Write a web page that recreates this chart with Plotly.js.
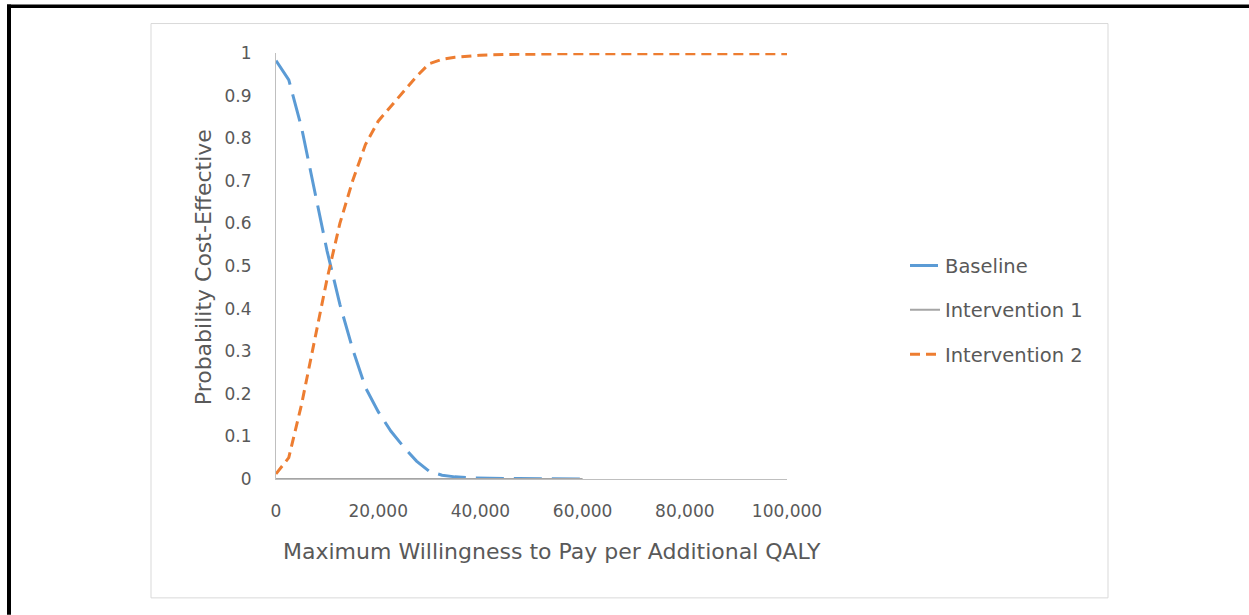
<!DOCTYPE html>
<html>
<head>
<meta charset="utf-8">
<script src="https://cdn.plot.ly/plotly-3.0.1.min.js"></script>
<style>
html,body{margin:0;padding:0;background:#fff;}
#chart{width:1249px;height:615px;}
</style>
</head>
<body>
<div id="chart"></div>
<script>
// Willingness-to-pay thresholds
const wtpShort = [0,2500,5000,7500,10000,12500,15000,17500,20000,22500,25000,27500,30000,32500,35000,37500,40000,42500,45000,47500,50000,52500,55000,57500,60000];
const wtpFull = [0,2500,5000,7500,10000,12500,15000,17500,20000,22500,25000,27500,30000,32500,35000,37500,40000,42500,45000,47500,50000,52500,55000,57500,60000,62500,65000,67500,70000,72500,75000,77500,80000,82500,85000,87500,90000,92500,95000,97500,100000];

// Probability cost-effective per strategy
const baseline = [0.982,0.937,0.825,0.68,0.535,0.41,0.305,0.215,0.158,0.112,0.075,0.042,0.018,0.009,0.005,0.003,0.002,0.002,0.001,0.001,0.001,0.001,0.001,0.0005,0];
const intervention1 = [0,0,0,0,0,0,0,0,0,0,0,0,0,0,0,0,0,0,0,0,0,0,0,0,0];
const intervention2 = [0.012,0.05,0.175,0.32,0.47,0.60,0.70,0.785,0.84,0.875,0.91,0.945,0.975,0.985,0.99,0.993,0.995,0.996,0.997,0.997,0.997,0.998,0.998,0.998,0.998,0.998,0.998,0.998,0.998,0.998,0.998,0.998,0.998,0.998,0.998,0.998,0.998,0.998,0.998,0.998,0.998];

const seriesNames = ["Baseline","Intervention 1","Intervention 2"];
const xTickVals = [0,20000,40000,60000,80000,100000];
const xTickLabels = ["0","20,000","40,000","60,000","80,000","100,000"];
const yTickVals = [0,0.1,0.2,0.3,0.4,0.5,0.6,0.7,0.8,0.9,1];
const yTickLabels = ["0","0.1","0.2","0.3","0.4","0.5","0.6","0.7","0.8","0.9","1"];
const xTitle = "Maximum Willingness to Pay per Additional QALY";
const yTitle = "Probability Cost-Effective";

const FONT = "DejaVu Sans, sans-serif";
const TXT = "#595959";

// pixel geometry of plot area
const PL = 276, PR = 787, PT = 52.5, PB = 479, W = 1249, H = 615;
const px = v => (v - PL) / (PR - PL);
const py = v => (PB - v) / (PB - PT);

const traces = [
  {x: wtpShort, y: baseline, name: seriesNames[0], mode: "lines", legendgroup: "a",
   line: {color: "#5B9BD5", width: 3, dash: "28px,10px"}},
  {x: wtpShort, y: intervention1, name: seriesNames[1], mode: "lines", legendgroup: "b",
   line: {color: "#A5A5A5", width: 2}},
  {x: wtpFull, y: intervention2, name: seriesNames[2], mode: "lines", legendgroup: "c",
   line: {color: "#ED7D31", width: 3, dash: "10px,6px"}}
];

const layout = {
  width: W, height: H,
  margin: {l: PL, r: W - PR, t: PT, b: H - PB, pad: 0},
  paper_bgcolor: "#fff", plot_bgcolor: "#fff",
  font: {family: FONT, color: TXT, size: 17},
  showlegend: true,
  legend: {x: px(905), y: py(246), xanchor: "left", yanchor: "top",
    font: {family: FONT, size: 19.5, color: TXT}, tracegroupgap: 16,
    bgcolor: "rgba(0,0,0,0)", borderwidth: 0},
  xaxis: {range: [0, 100000], tickvals: xTickVals, ticktext: xTickLabels,
    showgrid: false, zeroline: false, showline: true, linecolor: "#BFBFBF", linewidth: 1,
    ticks: "", ticklabelstandoff: 17, tickfont: {family: FONT, size: 17, color: TXT},
    fixedrange: true, automargin: false},
  yaxis: {range: [0, 1], tickvals: yTickVals, ticktext: yTickLabels,
    showgrid: false, zeroline: false, showline: true, linecolor: "#BFBFBF", linewidth: 1,
    ticks: "", ticklabelstandoff: 20, tickfont: {family: FONT, size: 17, color: TXT},
    fixedrange: true, automargin: false},
  annotations: [
    {xref: "paper", yref: "paper", x: px(552), y: py(552), xanchor: "center", yanchor: "middle",
     text: xTitle, showarrow: false, font: {family: FONT, size: 22, color: TXT}},
    {xref: "paper", yref: "paper", x: px(203), y: py(267), xanchor: "center", yanchor: "middle",
     text: yTitle, textangle: -90, showarrow: false, font: {family: FONT, size: 22, color: TXT}}
  ],
  shapes: [
    {type: "rect", xref: "paper", yref: "paper", layer: "below",
     x0: px(151), x1: px(1108), y0: py(23), y1: py(598),
     line: {color: "#D9D9D9", width: 1}, fillcolor: "rgba(0,0,0,0)"},
    {type: "rect", xref: "paper", yref: "paper", layer: "above",
     x0: px(7), x1: px(1249), y0: py(4), y1: py(7.5),
     line: {width: 0}, fillcolor: "#000"},
    {type: "rect", xref: "paper", yref: "paper", layer: "above",
     x0: px(7), x1: px(11), y0: py(4), y1: py(615),
     line: {width: 0}, fillcolor: "#000"}
  ]
};

Plotly.newPlot("chart", traces, layout, {displayModeBar: false, staticPlot: true});
</script>
</body>
</html>
